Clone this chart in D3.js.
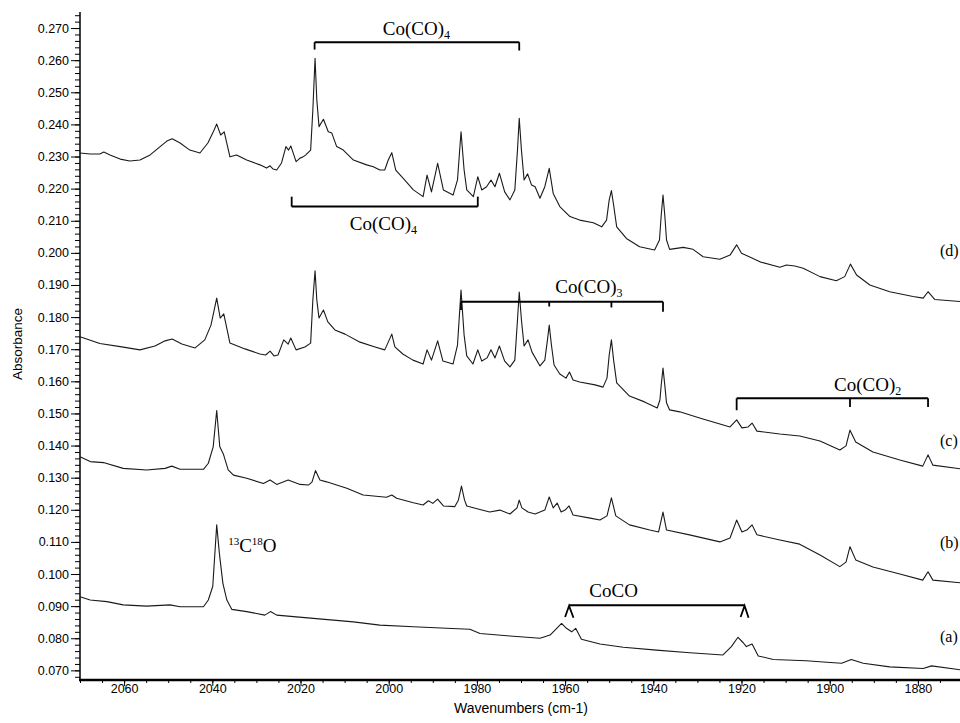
<!DOCTYPE html>
<html>
<head>
<meta charset="utf-8">
<script src="https://cdn.jsdelivr.net/npm/d3@7"></script>
<style>
  body { margin: 0; background: #fff; }
  .axis text { font-family: "Liberation Sans", Arial, sans-serif; font-size: 12.5px; fill: #000; }
  .axis path, .axis line { stroke: #000; }
  .note { font-family: "Liberation Serif", "Times New Roman", serif; fill: #000; }
</style>
</head>
<body>
<div class="chart"></div>
<script>
// tick labels
var yTicks = [0.070, 0.080, 0.090, 0.100, 0.110, 0.120, 0.130, 0.140, 0.150, 0.160, 0.170,
  0.180, 0.190, 0.200, 0.210, 0.220, 0.230, 0.240, 0.250, 0.260, 0.270];
var xTicks = [2060, 2040, 2020, 2000, 1980, 1960, 1940, 1920, 1900, 1880];

// spectra: [wavenumber, absorbance]
var traceA = [[2070.0,0.0929],[2067.7,0.0919],[2063.9,0.0914],[2060.2,0.0904],[2054.9,0.0900],[2049.6,0.0904],
  [2047.3,0.0898],[2042.0,0.0898],[2040.9,0.0919],[2039.9,0.0961],[2039.0,0.1153],[2038.4,0.1065],[2037.6,0.0971],
  [2036.7,0.0919],[2035.6,0.0890],[2032.2,0.0883],[2028.1,0.0872],[2026.8,0.0883],[2025.4,0.0872],[2017.1,0.0862],
  [2008.0,0.0851],[2002.0,0.0841],[1994.4,0.0836],[1986.9,0.0831],[1981.6,0.0828],[1979.3,0.0815],[1972.5,0.0807],
  [1965.7,0.0800],[1963.4,0.0810],[1961.9,0.0831],[1960.8,0.0846],[1959.7,0.0831],[1958.5,0.0820],[1957.6,0.0831],
  [1956.3,0.0797],[1952.1,0.0782],[1946.8,0.0772],[1939.3,0.0763],[1931.7,0.0755],[1924.2,0.0748],[1922.3,0.0774],
  [1920.8,0.0803],[1919.6,0.0786],[1918.9,0.0774],[1917.6,0.0782],[1916.2,0.0745],[1912.8,0.0734],[1905.3,0.0730],
  [1901.5,0.0726],[1897.3,0.0722],[1895.1,0.0734],[1892.4,0.0722],[1886.4,0.0711],[1878.8,0.0706],[1876.9,0.0714],
  [1870.0,0.0701]];

var traceB = [[2070.0,0.1365],[2067.7,0.1350],[2064.7,0.1347],[2060.2,0.1329],[2054.9,0.1324],[2050.7,0.1329],
  [2049.2,0.1336],[2047.3,0.1326],[2042.0,0.1326],[2040.9,0.1345],[2039.8,0.1396],[2039.0,0.1509],[2038.3,0.1396],
  [2037.5,0.1374],[2036.4,0.1324],[2035.2,0.1308],[2032.2,0.1298],[2028.4,0.1282],[2026.9,0.1293],[2025.4,0.1279],
  [2022.8,0.1293],[2020.1,0.1279],[2018.2,0.1277],[2017.4,0.1286],[2016.6,0.1322],[2015.6,0.1293],[2014.1,0.1287],
  [2009.5,0.1267],[2005.8,0.1246],[2000.5,0.1239],[1999.3,0.1246],[1998.2,0.1236],[1994.4,0.1222],[1992.2,0.1215],
  [1991.0,0.1228],[1990.0,0.1220],[1988.9,0.1233],[1987.6,0.1212],[1985.0,0.1210],[1984.2,0.1230],[1983.5,0.1274],
  [1982.8,0.1230],[1982.3,0.1212],[1979.3,0.1201],[1977.1,0.1193],[1974.8,0.1199],[1972.5,0.1187],[1970.9,0.1206],
  [1970.4,0.1230],[1969.8,0.1206],[1968.4,0.1193],[1966.8,0.1187],[1964.6,0.1199],[1963.6,0.1240],[1962.7,0.1206],
  [1961.8,0.1221],[1960.9,0.1193],[1960.0,0.1199],[1959.1,0.1212],[1958.2,0.1184],[1954.3,0.1174],[1952.1,0.1168],
  [1950.5,0.1181],[1949.5,0.1237],[1948.5,0.1181],[1945.4,0.1153],[1940.8,0.1137],[1938.8,0.1131],[1937.8,0.1193],
  [1937.0,0.1137],[1931.8,0.1122],[1924.9,0.1100],[1922.6,0.1112],[1921.1,0.1168],[1919.9,0.1131],[1918.8,0.1137],
  [1917.6,0.1153],[1916.5,0.1122],[1911.3,0.1106],[1906.8,0.1093],[1902.2,0.1059],[1897.7,0.1023],[1896.3,0.1037],
  [1895.4,0.1085],[1894.1,0.1044],[1890.2,0.1022],[1884.1,0.1000],[1878.9,0.0981],[1877.7,0.1007],[1876.6,0.0981],
  [1870.0,0.0972]];

var traceC = [[2070.0,0.1739],[2065.5,0.1718],[2060.9,0.1708],[2056.4,0.1698],[2053.0,0.1710],[2050.7,0.1726],
  [2049.1,0.1732],[2046.9,0.1716],[2043.9,0.1704],[2041.7,0.1729],[2040.3,0.1775],[2039.0,0.1859],[2038.2,0.1797],
  [2037.4,0.1810],[2036.0,0.1719],[2032.6,0.1701],[2029.2,0.1685],[2027.9,0.1682],[2026.9,0.1694],[2026.0,0.1679],
  [2025.1,0.1682],[2023.8,0.1729],[2022.8,0.1716],[2022.2,0.1735],[2021.0,0.1698],[2019.0,0.1707],[2017.7,0.1719],
  [2017.2,0.1853],[2016.7,0.1944],[2016.3,0.1853],[2015.8,0.1797],[2014.8,0.1822],[2013.8,0.1785],[2012.2,0.1760],
  [2009.9,0.1747],[2006.5,0.1722],[2003.1,0.1707],[2000.9,0.1698],[2000.1,0.1722],[1999.3,0.1747],[1998.6,0.1707],
  [1996.8,0.1685],[1994.5,0.1666],[1992.2,0.1654],[1991.3,0.1698],[1990.3,0.1666],[1988.9,0.1726],[1987.7,0.1663],
  [1985.4,0.1654],[1984.4,0.1713],[1983.6,0.1884],[1982.9,0.1744],[1982.3,0.1679],[1980.9,0.1654],[1979.8,0.1698],
  [1978.9,0.1663],[1977.7,0.1673],[1976.8,0.1698],[1975.9,0.1673],[1974.9,0.1710],[1973.7,0.1663],[1972.5,0.1645],
  [1971.4,0.1666],[1970.8,0.1791],[1970.4,0.1878],[1969.9,0.1791],[1969.3,0.1710],[1968.4,0.1729],[1967.5,0.1691],
  [1965.7,0.1648],[1964.6,0.1666],[1964.0,0.1729],[1963.6,0.1775],[1963.1,0.1713],[1962.5,0.1651],[1961.2,0.1623],
  [1959.8,0.1610],[1959.0,0.1629],[1958.2,0.1604],[1956.7,0.1598],[1953.2,0.1589],[1951.4,0.1582],[1950.5,0.1610],
  [1950.0,0.1682],[1949.5,0.1729],[1949.0,0.1666],[1948.3,0.1595],[1945.4,0.1554],[1942.0,0.1536],[1939.1,0.1517],
  [1938.5,0.1542],[1938.2,0.1589],[1937.8,0.1641],[1937.4,0.1589],[1937.0,0.1533],[1936.3,0.1511],[1934.0,0.1505],
  [1929.5,0.1486],[1924.9,0.1467],[1922.6,0.1458],[1921.1,0.1480],[1919.9,0.1455],[1918.5,0.1458],[1917.6,0.1470],
  [1916.5,0.1445],[1911.3,0.1436],[1906.8,0.1430],[1902.2,0.1414],[1897.7,0.1386],[1896.3,0.1399],[1895.4,0.1448],
  [1894.1,0.1411],[1890.2,0.1380],[1884.1,0.1355],[1878.9,0.1336],[1877.7,0.1371],[1876.6,0.1339],[1870.0,0.1327]];

var traceD = [[2070.0,0.2311],[2067.7,0.2308],[2065.5,0.2308],[2064.6,0.2314],[2063.2,0.2305],[2060.9,0.2292],
  [2058.7,0.2286],[2056.4,0.2289],[2054.1,0.2305],[2051.9,0.2330],[2050.3,0.2348],[2049.1,0.2355],[2047.3,0.2342],
  [2045.1,0.2320],[2042.8,0.2311],[2041.0,0.2342],[2039.8,0.2376],[2039.0,0.2401],[2038.1,0.2367],[2037.3,0.2377],
  [2036.0,0.2299],[2034.5,0.2305],[2032.2,0.2289],[2029.2,0.2274],[2027.7,0.2264],[2026.9,0.2271],[2026.2,0.2261],
  [2025.4,0.2258],[2024.3,0.2280],[2023.3,0.2331],[2022.7,0.2320],[2022.2,0.2333],[2021.0,0.2284],[2020.1,0.2295],
  [2019.4,0.2299],[2018.8,0.2305],[2017.7,0.2320],[2017.2,0.2445],[2016.7,0.2606],[2016.3,0.2476],[2015.8,0.2393],
  [2014.8,0.2416],[2013.7,0.2377],[2012.9,0.2373],[2011.8,0.2331],[2010.3,0.2320],[2008.0,0.2289],[2005.0,0.2274],
  [2003.5,0.2268],[2002.0,0.2258],[2000.9,0.2258],[2000.1,0.2289],[1999.3,0.2312],[1998.4,0.2258],[1996.7,0.2232],
  [1994.4,0.2196],[1992.2,0.2175],[1991.3,0.2242],[1990.3,0.2190],[1988.9,0.2279],[1987.6,0.2196],[1985.4,0.2180],
  [1984.4,0.2227],[1983.6,0.2377],[1982.9,0.2258],[1982.3,0.2196],[1980.8,0.2175],[1979.8,0.2237],[1978.9,0.2196],
  [1977.8,0.2206],[1976.8,0.2227],[1975.9,0.2206],[1974.9,0.2248],[1973.7,0.2190],[1972.5,0.2165],[1971.4,0.2196],
  [1970.8,0.2320],[1970.4,0.2419],[1969.9,0.2320],[1969.3,0.2227],[1968.5,0.2246],[1967.6,0.2211],[1966.8,0.2206],
  [1965.7,0.2170],[1964.6,0.2206],[1963.6,0.2263],[1962.7,0.2185],[1961.2,0.2144],[1958.9,0.2113],[1956.7,0.2102],
  [1953.6,0.2094],[1951.7,0.2081],[1950.6,0.2102],[1950.0,0.2165],[1949.5,0.2194],[1949.0,0.2149],[1948.3,0.2081],
  [1946.1,0.2045],[1943.1,0.2019],[1939.7,0.2009],[1938.6,0.2040],[1938.2,0.2118],[1937.8,0.2180],[1937.4,0.2118],
  [1937.0,0.2040],[1936.3,0.2011],[1933.2,0.2017],[1931.0,0.2011],[1928.7,0.1988],[1924.9,0.1980],[1922.6,0.1993],
  [1921.1,0.2025],[1920.0,0.1999],[1915.8,0.1972],[1911.3,0.1955],[1909.8,0.1962],[1907.9,0.1959],[1906.0,0.1952],
  [1902.2,0.1926],[1898.5,0.1913],[1896.6,0.1926],[1895.3,0.1965],[1893.9,0.1931],[1890.9,0.1900],[1886.4,0.1879],
  [1881.1,0.1864],[1878.8,0.1859],[1877.7,0.1879],[1876.2,0.1855],[1870.0,0.1848]];

var traces = [traceA, traceB, traceC, traceD];
var traceNames = ["(a)", "(b)", "(c)", "(d)"];
var traceLabelY = [0.0788, 0.1081, 0.1399, 0.1989];

var svgWidth = 960;
var svgHeight = 723;

var svg = d3.select(".chart")
  .append("svg")
  .attr("width", svgWidth)
  .attr("height", svgHeight)
  .style("display", "block");

var x = d3.scaleLinear().domain([2070, 1870]).range([80, 962]);
var y = d3.scaleLinear().domain([0.067, 0.275]).range([680, 12]);

// minor ticks first, majors on top
svg.append("g")
  .attr("class", "axis")
  .attr("transform", "translate(80,0)")
  .call(d3.axisLeft(y).tickValues(d3.range(68, 275, 2).map(d => d / 1000))
    .tickSize(5).tickFormat(""))
  .call(g => g.select(".domain").remove());

var yAxis = svg.append("g")
  .attr("class", "axis")
  .attr("transform", "translate(80,0)")
  .call(d3.axisLeft(y).tickValues(yTicks).tickSize(9).tickSizeOuter(0)
    .tickPadding(2).tickFormat(d3.format(".3f")));
yAxis.select(".domain").attr("stroke-width", 1.5).attr("d", "M0,12V681");

svg.append("g")
  .attr("class", "axis")
  .attr("transform", "translate(0,680)")
  .call(d3.axisBottom(x).tickValues(d3.range(2070, 1869, -5)).tickSize(3).tickFormat(""))
  .call(g => g.select(".domain").remove());

var xAxis = svg.append("g")
  .attr("class", "axis")
  .attr("transform", "translate(0,680)")
  .call(d3.axisBottom(x).tickValues(xTicks).tickSize(6).tickSizeOuter(0).tickFormat(d3.format("d")));
xAxis.select(".domain").attr("stroke-width", 2.5).attr("d", "M79,0H962");
xAxis.selectAll("text").attr("y", 4.5);

// axis titles
svg.append("text")
  .attr("transform", "translate(17,344) rotate(-90)")
  .attr("text-anchor", "middle")
  .attr("dominant-baseline", "central")
  .style("font-family", "Liberation Sans, Arial, sans-serif")
  .style("font-size", "13.5px")
  .text("Absorbance");

svg.append("text")
  .attr("x", 521)
  .attr("y", 713)
  .attr("text-anchor", "middle")
  .style("font-family", "Liberation Sans, Arial, sans-serif")
  .style("font-size", "14px")
  .text("Wavenumbers (cm-1)");

// spectra
var line = d3.line()
  .x(d => x(d[0]))
  .y(d => y(d[1]));

svg.append("g")
  .selectAll("path")
  .data(traces)
  .enter()
  .append("path")
  .attr("d", line)
  .attr("fill", "none")
  .attr("stroke", "#1a1a1a")
  .attr("stroke-width", 1.1)
  .attr("stroke-linejoin", "round");

// trace labels, kept just inside the right edge
svg.append("g")
  .selectAll("text")
  .data(traceNames)
  .enter()
  .append("text")
  .attr("class", "note")
  .attr("x", 940)
  .attr("y", (d, i) => y(traceLabelY[i]))
  .style("font-size", "16px")
  .text(d => d);

// bracket helpers
var ann = svg.append("g");

function bracket(from, to, level, ticks) {
  ann.append("line")
    .attr("x1", x(from)).attr("x2", x(to))
    .attr("y1", y(level)).attr("y2", y(level))
    .attr("stroke", "#000").attr("stroke-width", 2);
  ticks.forEach(function (t) {
    ann.append("line")
      .attr("x1", x(t[0])).attr("x2", x(t[0]))
      .attr("y1", y(level)).attr("y2", y(t[1]))
      .attr("stroke", "#000").attr("stroke-width", 1.8);
  });
}

function label(w, a, main, sub, anchor) {
  var t = ann.append("text")
    .attr("class", "note")
    .attr("x", x(w))
    .attr("y", y(a))
    .attr("text-anchor", anchor || "middle")
    .style("font-size", "19px");
  t.append("tspan").text(main);
  if (sub) {
    t.append("tspan").attr("dy", 4).style("font-size", "12px").text(sub);
  }
}

// Co(CO)4 upper
bracket(2016.8, 1970.4, 0.2656, [[2016.8, 0.2633], [1970.4, 0.2630]]);
label(1993.7, 0.2678, "Co(CO)", "4");

// Co(CO)4 lower
bracket(2022.0, 1979.8, 0.2144, [[2022.0, 0.2175], [1979.8, 0.2175]]);
label(2001.2, 0.2071, "Co(CO)", "4");

// Co(CO)3
bracket(1983.6, 1937.8, 0.1848, [[1983.6, 0.1822], [1963.6, 0.1833], [1949.5, 0.1830], [1937.8, 0.1817]]);
label(1954.6, 0.1875, "Co(CO)", "3");

// Co(CO)2
bracket(1921.1, 1877.7, 0.1547, [[1921.1, 0.1510], [1895.4, 0.1520], [1877.7, 0.1520]]);
label(1891.4, 0.1570, "Co(CO)", "2");

// CoCO with caret ends
ann.append("line")
  .attr("x1", x(1959.1)).attr("x2", x(1919.3))
  .attr("y1", y(0.0903)).attr("y2", y(0.0903))
  .attr("stroke", "#000").attr("stroke-width", 2);
[[1960.0, 1959.1, 1958.1], [1920.2, 1919.3, 1918.4]].forEach(function (c) {
  ann.append("path")
    .attr("d", d3.line()([[x(c[0]), y(0.0866)], [x(c[1]), y(0.0901)], [x(c[2]), y(0.0864)]]))
    .attr("fill", "none").attr("stroke", "#000").attr("stroke-width", 1.8);
});
label(1949.0, 0.0927, "CoCO");

// 13C18O
var iso = ann.append("text")
  .attr("class", "note")
  .attr("x", x(2036.4))
  .attr("y", y(0.1068))
  .style("font-size", "19px");
iso.append("tspan").attr("dy", -7).style("font-size", "11px").text("13");
iso.append("tspan").attr("dy", 7).text("C");
iso.append("tspan").attr("dy", -7).style("font-size", "11px").text("18");
iso.append("tspan").attr("dy", 7).text("O");
</script>
</body>
</html>
